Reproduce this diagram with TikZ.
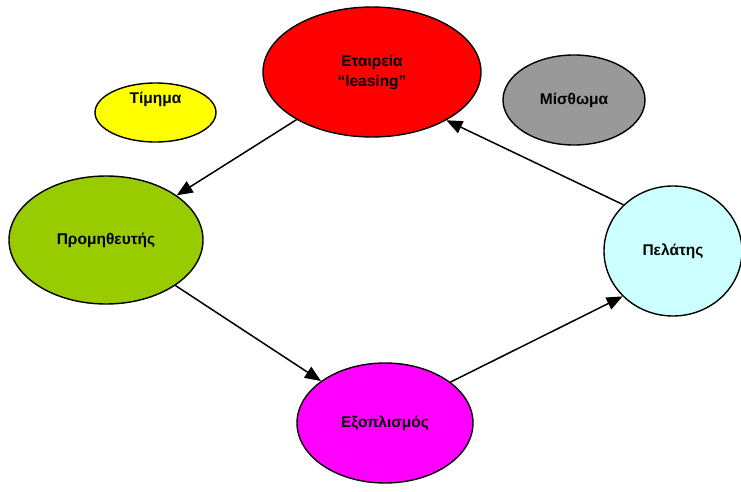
\documentclass[tikz,border=0pt]{standalone}
\usepackage{fontspec}
\setmainfont{Liberation Sans}
\usetikzlibrary{shapes.geometric,arrows.meta}
\definecolor{cgreen}{HTML}{99CC00}
\definecolor{ccyan}{HTML}{CCFFFF}
\definecolor{cgray}{HTML}{999999}
\definecolor{cmag}{HTML}{FF00FF}
\definecolor{cred}{HTML}{FF0000}
\definecolor{cyel}{HTML}{FFFF00}
\begin{document}
\begin{tikzpicture}[x=1pt,y=-1pt,
  bub/.style={ellipse,draw=black,line width=1.4pt,inner sep=0pt,
    font=\fontsize{15.5}{20}\selectfont\bfseries,align=center},
  conn/.style={line width=1.5pt,-{Triangle[length=16pt,width=13pt]}}]
\useasboundingbox[fill=white] (0,0) rectangle (741,492);
\node[bub,fill=cred,minimum width=218pt,minimum height=130pt] (r) at (372,72) {Εταιρεία\\“leasing”};
\node[bub,fill=cyel,minimum width=121pt,minimum height=59pt,
  label={[font=\fontsize{15.5}{20}\selectfont\bfseries,yshift=13pt]center:Τίμημα}] (y) at (155.5,112.5) {};
\node[bub,fill=cgray,minimum width=142pt,minimum height=90pt] (gr) at (574,100) {Μίσθωμα};
\node[bub,fill=cgreen,minimum width=194pt,minimum height=128pt] (g) at (106,240) {Προμηθευτής};
\node[bub,fill=ccyan,minimum width=138pt,minimum height=130pt] (c) at (673,251) {Πελάτης};
\node[bub,fill=cmag,minimum width=176pt,minimum height=120pt] (m) at (385,423) {Εξοπλισμός};
\draw[conn] (r) -- (g);
\draw[conn] (g) -- (m);
\draw[conn] (m.32) -- (c.222);
\draw[conn] (c.137) -- (r.-33);
\end{tikzpicture}
\end{document}
